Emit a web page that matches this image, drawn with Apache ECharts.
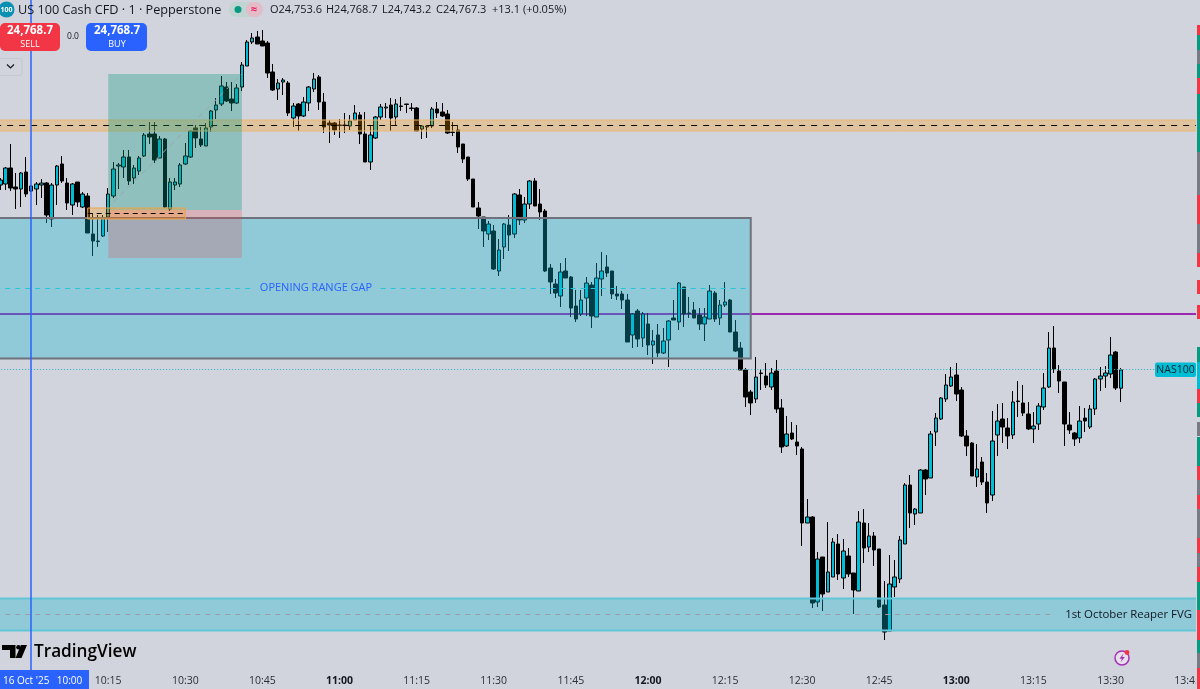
<!DOCTYPE html>
<html>
<head>
    <meta charset="UTF-8">
    <title>US 100 Cash CFD</title>
    <script src="https://cdn.jsdelivr.net/npm/echarts@6/dist/echarts.min.js"></script>
    <style>
        html, body { margin: 0; padding: 0; background: #d1d4dc; overflow: hidden; }
        #chart { width: 1200px; height: 689px; }
    </style>
</head>
<body>
<div id="chart"></div>
<script>
    // one minute candles, 16 Oct 2025, first one is 09:54
    var opens = [24906,24906.75,24918.75,24904.5,24903,24915.75,24901.5,24903,24906,24907.5,24880.5,24906,24921.75,24907.5,24891,24908.25,24889.5,24897.75,24869.25,24864,
        24867.75,24882,24897.75,24920.25,24919.5,24927,24911.25,24916.5,24927.75,24944.25,24944.25,24926.25,24940.5,24888,24906,24906.75,24921.75,24927,24948.75,24940.5,
        24935.25,24949.5,24962.25,24966.75,24979.5,24970.5,24967.5,24979.5,24995.25,25013.25,25017,25014,25012.5,24990.75,24978,24983.25,24982.5,24956.25,24966.75,24957.75,
        24967.5,24978,24987,24968.25,24952.5,24952.5,24951,24951,24950.25,24954.75,24958.5,24944.25,24923.25,24941.25,24957,24963.75,24966,24957,24965.25,24966.75,
        24963.75,24963.75,24948,24949.5,24950.25,24963,24960.75,24959.25,24945.75,24947.25,24936.75,24927,24910.5,24888.75,24882,24869.25,24871.5,24841.5,24859.5,24876,
        24869.25,24898.5,24879.75,24891.75,24909,24891.75,24886.5,24843.75,24831.75,24822.75,24841.5,24837,24815.25,24809.25,24821.25,24831,24807,24835.5,24844.5,24841.5,
        24824.25,24824.25,24819.75,24793.5,24811.5,24791.25,24801.75,24786,24793.5,24780,24789.75,24806.25,24803.25,24829.5,24810,24812.25,24808.5,24801.75,24805.5,24825,
        24806.25,24816,24819.75,24795.75,24783.75,24767.25,24750.75,24745.5,24765,24762.75,24754.5,24766.5,24738.75,24710.25,24720,24713.25,24708,24652.5,24657,24593.25,
        24627,24600.75,24612,24636.75,24611.25,24627.75,24615,24601.5,24652.5,24634.5,24642.75,24633,24591,24571.5,24604.5,24610.5,24636.75,24681,24659.25,24660,
        24692.25,24686.25,24720.75,24730.5,24745.5,24755.25,24763.5,24752.25,24717.75,24712.5,24687,24698.25,24683.25,24673.5,24718.5,24730.5,24723.75,24718.5,24744,24742.5,
        24734.25,24723,24726.75,24739.5,24754.5,24783.75,24766.5,24758.25,24726,24720,24716.25,24731.25,24724.5,24738,24760.5,24762.75,24764.25,24780.75,24753.6];
    var closes = [24909.75,24918.75,24903.75,24903,24915,24899.25,24905.25,24906.75,24907.5,24883.5,24906,24920.25,24909,24892.5,24906.75,24893.25,24899.25,24870,24864,24863.6,
        24881.25,24899.25,24918,24921,24927,24909,24918.75,24926.25,24943.5,24942,24924.75,24940.5,24889.5,24908.25,24908.25,24921,24927.75,24946.5,24941.25,24936,
        24948.75,24961.5,24966,24980.25,24969,24967.5,24978.75,24996,25013.25,25016.25,25011.75,25010.25,24990,24977.25,24982.5,24984.75,24960,24965.25,24957.75,24968.25,
        24979.5,24985.5,24968.25,24949.5,24951,24947.25,24950.6,24950.6,24954,24960,24944.25,24923.25,24943.5,24957,24964.5,24964.5,24956.25,24966.75,24964.9,24966.4,
        24963.4,24946.5,24950.25,24950.25,24963,24960,24957.75,24945,24945.4,24934.5,24925.5,24910.5,24889.5,24882.75,24871.5,24876.75,24843,24857.25,24876.75,24868.5,
        24899.25,24879.75,24891.75,24909,24890.25,24885.75,24841.5,24833.25,24825,24840.75,24836.25,24813.75,24805.5,24819.75,24832.5,24807.75,24836.25,24841.5,24840,24824.25,
        24822.75,24819.75,24788.25,24809.25,24790.5,24809.25,24786,24789,24780,24789,24804,24804.75,24832.5,24809.25,24809.6,24806.25,24801.75,24807,24826.5,24805.5,
        24816,24818.25,24795.75,24781.5,24767.25,24747,24742.5,24762,24764.6,24756,24765,24738,24709.5,24719.25,24715.5,24710.25,24652.5,24657,24592.5,24625.5,
        24599.25,24615.75,24638.25,24614.25,24631.5,24614.25,24602.25,24653.25,24633.75,24642.75,24632.25,24589.5,24570.75,24606.75,24612,24639.75,24681,24660,24663,24692.25,
        24685.5,24719.25,24731.25,24746.25,24756,24762,24749.25,24717.75,24710.25,24687.75,24693,24683.25,24667.5,24714,24729,24724.5,24717.75,24743.25,24743.6,24735,
        24723,24725.25,24740.25,24753.75,24783.75,24768,24759,24726.75,24722.25,24715.5,24729,24729,24738,24760.5,24762.75,24765,24778.5,24753.75,24767.3];
    var lows = [24902.25,24902.25,24901.5,24888,24889.5,24897,24900.75,24891,24896.25,24877.5,24874.5,24891,24907.5,24887.25,24883.5,24889.5,24888.75,24870,24852.75,24859.5,
        24867,24870.75,24896.25,24903,24911.25,24906,24906.75,24913.5,24927,24936.75,24922.5,24926.25,24888.75,24886.5,24902.25,24904.5,24921,24926.25,24933.75,24934.5,
        24935.25,24945.75,24955.5,24965.25,24968.25,24961.5,24966.75,24976.5,24995.25,25011.75,25011.75,25010.25,24986.25,24976.5,24969.75,24973.5,24957.75,24949.5,24946.5,24957,
        24961.5,24975.75,24962.25,24945,24937.5,24943.5,24941.25,24945,24947.25,24954.75,24936.75,24923.25,24917.25,24940.5,24954.75,24956.25,24946.5,24951,24961.5,24960,
        24961.5,24946.5,24940.5,24941.25,24948.75,24956.25,24957,24944.25,24942.75,24930,24922.5,24909,24889.5,24873,24859.5,24864.75,24842.25,24837.75,24850.5,24856.5,
        24866.25,24876,24877.5,24888,24890.25,24879.75,24840.75,24824.25,24821.25,24814.5,24836.25,24807,24803.25,24807.75,24807.75,24798.75,24807,24822.75,24837,24820.5,
        24819.75,24813,24788.25,24783.75,24784.5,24784.5,24778.5,24771.75,24777,24779.25,24769.5,24804.75,24797.25,24799.5,24806.25,24806.25,24797.25,24789,24805.5,24803.25,
        24801,24814.5,24795.75,24780.75,24767.25,24739.5,24733.5,24742.5,24752.25,24753.75,24752.25,24735,24705,24709.5,24714.75,24703.5,24635.25,24652.5,24588.75,24589.5,
        24586.5,24600.75,24612,24609.75,24603,24612,24584.25,24601.5,24622.5,24630.75,24620.25,24588.75,24564.75,24571.5,24597,24607.5,24636.75,24648.75,24651,24660,
        24673.5,24686.25,24710.25,24729.75,24743.25,24754.5,24744,24717,24702.75,24687.75,24679.5,24681,24660,24669,24702.75,24712.5,24708,24715.5,24732,24732.75,
        24722.25,24712.5,24722.25,24737.25,24753.75,24765,24750,24710.25,24719.25,24710.25,24712.5,24720.75,24723,24733.5,24751.5,24753.75,24761.25,24752.25,24743.2];
    var highs = [24911.25,24919.5,24936.75,24915,24915.75,24927,24906,24908.25,24910.5,24908.25,24907.5,24921,24927.75,24911.25,24907.5,24908.25,24900.75,24900,24885,24883.5,
        24883.5,24903.75,24923.25,24922.5,24932.25,24932.25,24921,24927.75,24945,24953.25,24953.25,24942.75,24941.25,24911.25,24911.25,24922.5,24937.5,24947.25,24951,24949.5,
        24952.5,24962.25,24971.25,24987.75,24983.25,24983.25,24981.75,24998.25,25014.75,25020,25021.5,25022.25,25014,24996.75,24985.5,24986.25,24984,24967.5,24967.5,24972,
        24980.25,24990,24988.5,24975,24954.75,24953.25,24955.5,24960,24958.5,24966,24960.75,24960.75,24951,24957.75,24966.75,24967.5,24971.25,24970.5,24972,24966.75,
        24967.5,24964.5,24951,24951,24964.5,24968.25,24967.5,24962.25,24953.25,24951,24936.75,24927,24910.5,24893.25,24882,24879,24876,24865.5,24877.5,24883.5,
        24900,24903,24897,24909.75,24911.25,24903,24888,24846.75,24835.5,24847.5,24851.25,24837.75,24827.25,24827.25,24837,24833.25,24847.5,24855.75,24853.5,24841.5,
        24830.25,24826.5,24824.25,24810,24813,24810.75,24810,24797.25,24801.75,24798.75,24804.75,24819.75,24833.25,24829.5,24822,24818.25,24813.75,24813.75,24831,24826.5,
        24819.75,24833.25,24820.5,24804.75,24788.25,24768.75,24752.25,24777,24768,24772.5,24768.75,24774.75,24745.5,24732.75,24728.25,24726,24709.5,24670.5,24657.75,24630.75,
        24627,24653.25,24641.25,24644.25,24640.5,24633.75,24615,24661.5,24663,24652.5,24645.75,24633,24609,24628.5,24624.75,24642.75,24682.5,24688.5,24663.75,24693,
        24693,24721.5,24735,24747,24764.25,24769.5,24772.5,24754.5,24722.25,24713.25,24711.75,24702,24690,24736.5,24741.75,24742.5,24731.25,24751.5,24759,24756,
        24743.25,24735.75,24742.5,24765,24795.75,24800.25,24771,24758.25,24735.75,24720.75,24740.25,24738.75,24741,24761.25,24769.5,24770.25,24792,24781.5,24768.7];

    // price levels of the drawings
    var supplyZone = [24954.75, 24946.5];
    var supplyMid = 24950.6;
    var gapZone = [24881.25, 24775.9];
    var gapMid = 24828.4;
    var gapLine = 24809.6;
    var lastPrice = 24768;
    var fvgZone = [24595.9, 24571.9];
    var fvgMid = 24583.9;
    var positionTarget = 24989.25;
    var positionEntry = 24887.25;
    var positionStop = 24851.25;
    var entryZone = [24888.75, 24880.5];
    var entryMid = 24885;
    var sessionOpen = "10:00";

    // axis starts one minute early and ends past the window so zones run off the edges
    var categories = [];
    for (var m = 0; m < 236; m++) {
        var t = 9 * 60 + 53 + m;
        categories.push(Math.floor(t / 60) + ":" + ("0" + (t % 60)).slice(-2));
    }

    var candles = ["-"].concat(opens.map(function (o, i) {
        return [o, closes[i], lows[i], highs[i]];
    }));

    var font = "'Open Sans', sans-serif";
    var bg = "#d1d4dc";
    var last = categories.length - 2;
    var zoneTeal = "rgba(12,178,205,0.33)";

    function cat(k) {
        return categories[k + 1];
    }

    function zone(from, to, range, fill, border, borderWidth) {
        return [
            {
                xAxis: cat(from), yAxis: range[0],
                itemStyle: {color: fill, borderColor: border, borderWidth: borderWidth}
            },
            {xAxis: cat(to), yAxis: range[1]}
        ];
    }

    function hline(from, to, price, color, type, width) {
        return [
            {
                coord: [cat(from), price],
                lineStyle: {color: color, type: type, width: width}
            },
            {coord: [cat(to), price]}
        ];
    }

    function overlay(z, areas, lines) {
        return {
            type: "line",
            data: [],
            z: z,
            silent: true,
            animation: false,
            markArea: {silent: true, z: z, animation: false, data: areas || []},
            markLine: {
                silent: true, z: z, animation: false, symbol: "none", label: {show: false},
                data: lines || []
            }
        };
    }

    // sidebar on the right, [top, bottom, colour]
    var red = "#f23645", green = "#089981", grey = "#787b86";
    var strip = [[25, 35, red], [35, 50, green], [50, 64, grey], [64, 78, green], [78, 94, red], [94, 152, green],
        [152, 195, grey], [195, 224, red], [224, 253, grey], [253, 267, red], [280, 294, red], [305, 319, red],
        [347, 362, green], [362, 389, "#00bcd4"], [389, 403, red], [403, 417, green], [422, 436, grey], [437, 466, green],
        [466, 480, red], [480, 495, grey], [495, 509, red], [509, 538, grey], [538, 553, red], [553, 567, grey],
        [567, 582, red], [582, 610, green], [610, 640, red], [640, 653, green], [653, 668, grey], [668, 689, red]];

    var graphics = [{type: "rect", shape: {x: 1196, y: 0, width: 4, height: 689}, style: {fill: bg}, z: 50}];
    strip.forEach(function (s) {
        graphics.push({type: "rect", shape: {x: 1197, y: s[0], width: 3, height: s[1] - s[0]}, style: {fill: s[2]}, z: 51});
    });

    function text(x, y, str, size, color, weight, align) {
        return {
            type: "text", x: x, y: y, z: 60,
            style: {
                text: str, fontFamily: font, fontSize: size, fill: color, fontWeight: weight || 400,
                align: align || "left", verticalAlign: "middle"
            }
        };
    }

    function box(x, y, w, h, fill, r, stroke) {
        return {
            type: "rect", z: 55,
            shape: {x: x, y: y, width: w, height: h, r: r || 0},
            style: {fill: fill, stroke: stroke || null}
        };
    }

    graphics.push(
        // header
        {type: "circle", z: 55, shape: {cx: 6.5, cy: 9.5, r: 8}, style: {fill: "#0b8fb3"}},
        text(6.5, 9.5, "100", 7, "#fff", 700, "center"),
        text(18, 10, "US 100 Cash CFD · 1 · Pepperstone", 12.7, "#131722"),
        box(229, 2, 34, 15, "#c0d4d2", 7.5),
        box(246, 2, 17, 15, "#e3bcc8", 7.5),
        {type: "circle", z: 56, shape: {cx: 238, cy: 9.5, r: 3.5}, style: {fill: "#089981"}},
        text(254, 9.5, "≈", 11, "#e91e63", 700, "center"),
        text(270, 10, "O24,753.6", 11, "#131722"),
        text(326, 10, "H24,768.7", 11, "#131722"),
        text(382, 10, "L24,743.2", 11, "#131722"),
        text(436, 10, "C24,767.3", 11, "#131722"),
        text(492, 10, "+13.1 (+0.05%)", 11, "#131722"),
        // buttons
        box(0, 23, 60, 28, "#f23645", 5),
        text(30, 31, "24,768.7", 11.5, "#fff", 700, "center"),
        text(30, 44, "SELL", 9, "#fff", 400, "center"),
        text(73, 37, "0.0", 8.5, "#131722", 400, "center"),
        box(86, 23, 61, 28, "#2962ff", 5),
        text(117, 31, "24,768.7", 11.5, "#fff", 700, "center"),
        text(117, 44, "BUY", 9, "#fff", 400, "center"),
        box(-3, 58.5, 25, 17, "none", 3, "#c5c8d0"),
        {
            type: "polyline", z: 56, shape: {points: [[7, 64.5], [10.5, 68], [14, 64.5]]},
            style: {stroke: "#131722", fill: null, lineWidth: 1.2}
        },
        // drawing labels
        text(316, 288, "OPENING RANGE GAP", 11, "#2962ff", 400, "center"),
        text(1192, 614.5, "1st October Reaper FVG", 11.4, "#131722", 400, "right"),
        box(1155, 362.5, 41, 14.5, "#00bcd4", 2),
        text(1175.5, 370, "NAS100", 10.5, "#06222a", 400, "center"),
        // logo
        {
            type: "polygon", z: 60,
            shape: {points: [[2, 645], [15.5, 645], [15.5, 658], [10, 658], [10, 650], [2, 650]]},
            style: {fill: "#000"}
        },
        {type: "circle", z: 60, shape: {cx: 18.5, cy: 647.3, r: 2.3}, style: {fill: "#000"}},
        {type: "polygon", z: 60, shape: {points: [[21, 645], [27, 645], [21.5, 658], [15.5, 658]]}, style: {fill: "#000"}},
        text(34, 652, "TradingView", 17.2, "#000", 600),
        // time badge
        box(0, 670, 89, 19, "#2962ff"),
        text(3, 681, "16 Oct '25", 10, "#fff"),
        text(69.5, 681, "10:00", 10, "#fff", 400, "center"),
        // icon
        {type: "circle", z: 60, shape: {cx: 1122, cy: 658, r: 7}, style: {fill: "#e6e0ea", stroke: "#a62fb8", lineWidth: 1.5}},
        {
            type: "polygon", z: 61,
            shape: {points: [[1123.5, 653.5], [1119.5, 658.8], [1122, 658.8], [1120.5, 662.5], [1124.8, 657], [1122.2, 657]]},
            style: {fill: "#a62fb8"}
        },
        {type: "circle", z: 61, shape: {cx: 1127, cy: 652.5, r: 2.4}, style: {fill: "#f23645"}}
    );

    var option = {
        backgroundColor: bg,
        animation: false,
        grid: {left: -7.41, top: 0, width: 1213.04, height: 670, outerBoundsMode: "none"},
        xAxis: {
            type: "category",
            data: categories,
            boundaryGap: true,
            axisLine: {show: false},
            axisTick: {show: false},
            splitLine: {show: false},
            axisLabel: {
                interval: function (i, v) {
                    return /:(00|15|30|45)$/.test(v);
                },
                formatter: function (v) {
                    return /:00$/.test(v) ? "{b|" + v + "}" : v;
                },
                rich: {b: {fontWeight: 700, fontFamily: font, fontSize: 10.5, color: "#131722"}},
                fontFamily: font,
                fontSize: 10.5,
                color: "#2a2e39",
                margin: 6
            }
        },
        yAxis: {
            type: "value",
            min: 24542.25,
            max: 25044.75,
            show: false,
            splitLine: {show: false}
        },
        series: [
            overlay(1, [], [hline(-1, last, gapLine, "#9c27b0", "solid", 2)]),
            {
                type: "candlestick",
                data: candles,
                z: 2,
                barWidth: 4,
                animation: false,
                itemStyle: {
                    color: "#00bcd4",
                    color0: "#000000",
                    borderColor: "#000000",
                    borderColor0: "#000000",
                    borderColorDoji: "#222222",
                    borderWidth: 1
                }
            },
            overlay(3, [
                zone(-1, 146, gapZone, zoneTeal, "#6f727c", 2),
                zone(-1, last, fvgZone, zoneTeal, "#62c6d8", 2),
                zone(-1, last, supplyZone, "rgba(255,152,0,0.28)", "#e9b878", 1)
            ], [
                hline(-1, 49, gapMid, "#26c6da", [5, 5], 1),
                hline(74, 145, gapMid, "#26c6da", [5, 5], 1),
                hline(-1, last, supplyMid, "#000000", [6, 6], 1),
                hline(-1, 205, fvgMid, "#9a9ea8", [5, 5], 1),
                hline(-1, 225, lastPrice, "#26b3c6", [1, 2], 1)
            ]),
            overlay(4, [
                zone(21, 47, [positionTarget, positionEntry], "rgba(8,153,129,0.33)", "transparent", 0),
                zone(21, 47, [positionEntry, positionStop], "rgba(242,54,69,0.22)", "transparent", 0)
            ], [
                [
                    {coord: [cat(22), 24893.25], lineStyle: {color: "#9ea3ad", type: [5, 5], width: 1}},
                    {coord: [cat(47), positionTarget]}
                ]
            ]),
            overlay(5, [
                zone(17, 36, entryZone, "rgba(255,152,0,0.28)", "#eaa44f", 1)
            ], [
                hline(17, 36, entryMid, "#000000", [5, 4], 1),
                {xAxis: sessionOpen, lineStyle: {color: "#2962ff", type: "solid", width: 1.5}}
            ])
        ],
        graphic: graphics
    };

    var chart = echarts.init(document.getElementById("chart"), null, {renderer: "canvas"});
    chart.setOption(option);
</script>
</body>
</html>
